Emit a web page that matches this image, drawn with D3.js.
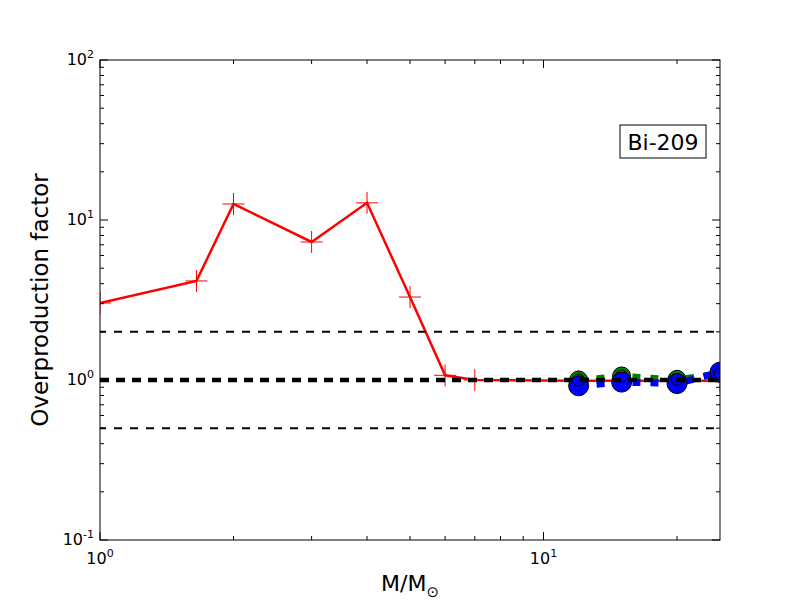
<!DOCTYPE html>
<html lang="en">
<head>
<meta charset="UTF-8">
<title>Bi-209</title>
<script src="https://cdn.jsdelivr.net/npm/d3@7"></script>
<style>
    body { margin: 0; background: #fff; font-family: "DejaVu Sans", sans-serif; }
    svg { display: block; }
</style>
</head>
<body>
<script>
    // data
    const redMass = [1, 1.65, 2, 3, 4, 5, 6, 7, 12, 15, 20, 25];
    const redVal = [3.03, 4.16, 12.6, 7.29, 12.8, 3.3, 1.07, 1.0, 0.99, 0.99, 0.99, 0.99];
    const greenMass = [12, 15, 20, 25];
    const greenVal = [1.0, 1.06, 1.01, 1.1];
    const blueMass = [12, 15, 20, 25];
    const blueVal = [0.92, 0.97, 0.95, 1.12];
    const refLines = [2, 1, 0.5];
    const xMajor = [1, 10];
    const yMajor = [0.1, 1, 10, 100];
    const label = "Bi-209";

    const W = 800, H = 600;
    const m = {left: 100, right: 80, top: 60, bottom: 60};

    const svg = d3.select("body").append("svg").attr("width", W).attr("height", H);

    const x = d3.scaleLog().domain([1, 25]).range([m.left, W - m.right]);
    const y = d3.scaleLog().domain([0.1, 100]).range([H - m.bottom, m.top]);

    svg.append("clipPath").attr("id", "clip")
        .append("rect")
        .attr("x", m.left).attr("y", m.top)
        .attr("width", W - m.left - m.right).attr("height", H - m.top - m.bottom);

    const plot = svg.append("g").attr("clip-path", "url(#clip)");
    const line = d3.line().x(d => x(d[0])).y(d => y(d[1]));

    // red series
    const red = redMass.map((d, i) => [d, redVal[i]]);
    plot.append("path").datum(red)
        .attr("d", line).attr("fill", "none")
        .attr("stroke", "red").attr("stroke-width", 2.5);
    plot.selectAll(".plus").data(red).enter().append("path")
        .attr("d", d => `M${x(d[0]) - 11},${y(d[1])}h22M${x(d[0])},${y(d[1]) - 11}v22`)
        .attr("stroke", "red").attr("stroke-width", 1);

    // green series
    const green = greenMass.map((d, i) => [d, greenVal[i]]);
    plot.append("path").datum(green)
        .attr("d", line).attr("fill", "none")
        .attr("stroke", "green").attr("stroke-width", 6)
        .attr("stroke-dasharray", "8,10");
    plot.selectAll(".gdot").data(green).enter().append("circle")
        .attr("cx", d => x(d[0])).attr("cy", d => y(d[1])).attr("r", 9)
        .attr("fill", "green").attr("stroke", "black").attr("stroke-width", 1);

    // blue series
    const blue = blueMass.map((d, i) => [d, blueVal[i]]);
    plot.append("path").datum(blue)
        .attr("d", line).attr("fill", "none")
        .attr("stroke", "blue").attr("stroke-width", 7)
        .attr("stroke-dasharray", "8,10");
    plot.selectAll(".bdot").data(blue).enter().append("circle")
        .attr("cx", d => x(d[0])).attr("cy", d => y(d[1])).attr("r", 10)
        .attr("fill", "blue").attr("stroke", "black").attr("stroke-width", 1);
    plot.selectAll(".garc").data(green).enter().append("circle")
        .attr("cx", d => x(d[0])).attr("cy", d => y(d[1])).attr("r", 6)
        .attr("fill", "none").attr("stroke", "black").attr("stroke-width", 1);

    // reference lines
    plot.selectAll(".ref").data(refLines).enter().append("line")
        .attr("x1", m.left).attr("x2", W - m.right)
        .attr("y1", d => y(d)).attr("y2", d => y(d))
        .attr("stroke", "black")
        .attr("stroke-width", d => d === 1 ? 4.5 : 2)
        .attr("stroke-dasharray", d => d === 1 ? "9,7" : "8,8")
        .attr("stroke-dashoffset", d => d === 1 ? 0 : 2);

    // frame
    svg.append("rect")
        .attr("x", m.left).attr("y", m.top)
        .attr("width", W - m.left - m.right).attr("height", H - m.top - m.bottom)
        .attr("fill", "none").attr("stroke", "black").attr("stroke-width", 1);

    // ticks (inside, all four sides)
    const ticks = svg.append("g").attr("stroke", "black").attr("stroke-width", 1);
    const xMinor = [];
    [1, 10].forEach(b => { for (let k = 2; k <= 9; k++) if (b * k <= 25) xMinor.push(b * k); });
    const yMinor = [];
    [0.1, 1, 10].forEach(b => { for (let k = 2; k <= 9; k++) yMinor.push(b * k); });

    function xTick(v, len) {
        ticks.append("line").attr("x1", x(v)).attr("x2", x(v))
            .attr("y1", H - m.bottom).attr("y2", H - m.bottom - len);
        ticks.append("line").attr("x1", x(v)).attr("x2", x(v))
            .attr("y1", m.top).attr("y2", m.top + len);
    }
    function yTick(v, len) {
        ticks.append("line").attr("y1", y(v)).attr("y2", y(v))
            .attr("x1", m.left).attr("x2", m.left + len);
        ticks.append("line").attr("y1", y(v)).attr("y2", y(v))
            .attr("x1", W - m.right).attr("x2", W - m.right - len);
    }
    xMajor.forEach(v => xTick(v, 8));
    xMinor.forEach(v => xTick(v, 4));
    yMajor.forEach(v => yTick(v, 8));
    yMinor.forEach(v => yTick(v, 4));

    // tick labels
    function powLabel(sel, v) {
        const e = Math.round(Math.log10(v));
        sel.append("tspan").text("10");
        sel.append("tspan").attr("dy", -7).attr("font-size", 11).text(e);
    }
    xMajor.forEach(v => {
        const t = svg.append("text").attr("x", x(v)).attr("y", H - m.bottom + 24)
            .attr("text-anchor", "middle").attr("font-size", 16);
        powLabel(t, v);
    });
    yMajor.forEach(v => {
        const t = svg.append("text").attr("x", m.left - 6).attr("y", y(v) + 5)
            .attr("text-anchor", "end").attr("font-size", 16);
        powLabel(t, v);
    });

    // axis titles
    const xl = svg.append("text").attr("x", 410).attr("y", 591)
        .attr("text-anchor", "middle").attr("font-size", 22);
    xl.append("tspan").text("M/M");
    xl.append("tspan").attr("dy", 6).attr("font-size", 15).text("\u2299");
    svg.append("text")
        .attr("transform", `translate(48,${(m.top + H - m.bottom) / 2}) rotate(-90)`)
        .attr("text-anchor", "middle").attr("font-size", 23)
        .text("Overproduction factor");

    // label box
    svg.append("rect").attr("x", 620).attr("y", 125).attr("width", 86).attr("height", 33)
        .attr("fill", "white").attr("stroke", "black").attr("stroke-width", 1);
    svg.append("text").attr("x", 663).attr("y", 150).attr("text-anchor", "middle")
        .attr("font-size", 22).text(label);
</script>
</body>
</html>
